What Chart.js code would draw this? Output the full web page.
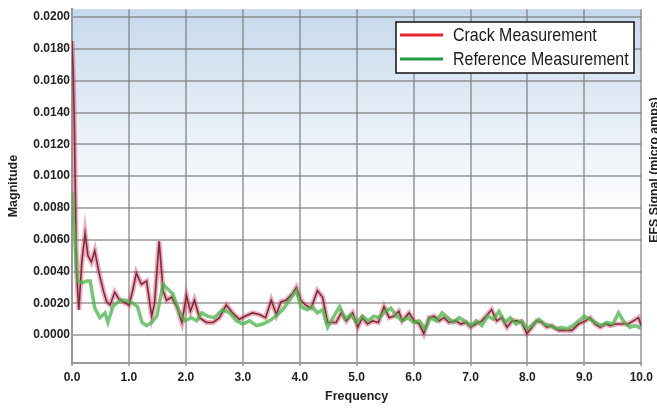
<!DOCTYPE html>
<html>
<head>
<meta charset="utf-8">
<title>Magnitude vs Frequency</title>
<script src="https://cdn.jsdelivr.net/npm/chart.js@4/dist/chart.umd.min.js"></script>
<style>
  html, body { margin: 0; padding: 0; background: #fff; overflow: hidden; }
  #wrap { position: relative; width: 657px; height: 412px; }
</style>
</head>
<body>
<div id="wrap"><canvas id="fftChart"></canvas></div>
<script>
// values
const crackFreq = [0.00, 0.02, 0.04, 0.06, 0.08, 0.12, 0.17, 0.23, 0.28, 0.34, 0.40, 0.47, 0.55, 0.61, 0.67, 0.75, 0.82, 0.90,
  1.00, 1.06, 1.13, 1.22, 1.31, 1.40, 1.45, 1.53, 1.60, 1.66, 1.75, 1.84, 1.93, 2.01, 2.08, 2.15, 2.24, 2.36, 2.48, 2.59,
  2.71, 2.82, 2.94, 3.05, 3.17, 3.29, 3.40, 3.50, 3.59, 3.67, 3.76, 3.87, 3.94, 4.02, 4.10, 4.20, 4.31, 4.40, 4.49, 4.64,
  4.73, 4.82, 4.93, 5.02, 5.10, 5.19, 5.28, 5.38, 5.48, 5.57, 5.66, 5.74, 5.80, 5.92, 6.01, 6.10, 6.18, 6.27, 6.36, 6.45,
  6.53, 6.62, 6.74, 6.83, 6.92, 7.00, 7.09, 7.20, 7.32, 7.37, 7.46, 7.55, 7.64, 7.73, 7.81, 7.90, 7.99, 8.08, 8.16, 8.25,
  8.34, 8.43, 8.55, 8.67, 8.78, 8.90, 9.02, 9.10, 9.19, 9.28, 9.37, 9.46, 9.55, 9.65, 9.77, 9.86, 9.95, 10.00];
const crackMag = [0.0185, 0.0166, 0.0135, 0.0085, 0.0040, 0.0016, 0.0045, 0.0064, 0.0050, 0.0046, 0.0053, 0.0040, 0.0028, 0.0021, 0.0019, 0.0027, 0.0023, 0.0021,
  0.0019, 0.0027, 0.0039, 0.0032, 0.0034, 0.0012, 0.0020, 0.0059, 0.0028, 0.0022, 0.0024, 0.0018, 0.0008, 0.0025, 0.0015, 0.0022, 0.0011, 0.0008, 0.0008, 0.0011,
  0.0019, 0.0014, 0.0010, 0.0012, 0.0014, 0.0013, 0.0011, 0.0022, 0.0013, 0.0021, 0.0022, 0.0026, 0.0030, 0.0022, 0.0019, 0.0017, 0.0028, 0.0024, 0.0008, 0.0008,
  0.0014, 0.0009, 0.0014, 0.0005, 0.0011, 0.0007, 0.0009, 0.0008, 0.0018, 0.0011, 0.0012, 0.0015, 0.0009, 0.0014, 0.0009, 0.0007, 0.0001, 0.0011, 0.0012, 0.0009,
  0.0011, 0.0008, 0.0009, 0.0007, 0.0008, 0.0005, 0.0007, 0.0009, 0.0014, 0.0016, 0.0009, 0.0011, 0.0005, 0.0009, 0.0009, 0.0008, 0.0001, 0.0005, 0.0009, 0.0008,
  0.0005, 0.0006, 0.0003, 0.0003, 0.0003, 0.0007, 0.0009, 0.0011, 0.0007, 0.0005, 0.0007, 0.0006, 0.0007, 0.0007, 0.0007, 0.0009, 0.0011, 0.0006];

const refFreq = [0.00, 0.02, 0.05, 0.08, 0.10, 0.18, 0.26, 0.32, 0.40, 0.49, 0.58, 0.63, 0.72, 0.84, 0.96, 1.07, 1.15, 1.23,
  1.31, 1.40, 1.49, 1.60, 1.68, 1.77, 1.89, 1.98, 2.10, 2.19, 2.28, 2.38, 2.50, 2.64, 2.77, 2.89, 3.00, 3.12, 3.24, 3.35,
  3.47, 3.58, 3.70, 3.82, 3.94, 4.02, 4.13, 4.22, 4.31, 4.40, 4.49, 4.60, 4.70, 4.80, 4.90, 5.00, 5.10, 5.20, 5.30, 5.40,
  5.50, 5.60, 5.70, 5.80, 5.90, 6.00, 6.10, 6.20, 6.30, 6.40, 6.50, 6.60, 6.70, 6.80, 6.90, 7.00, 7.10, 7.20, 7.30, 7.40,
  7.50, 7.60, 7.70, 7.80, 7.90, 8.00, 8.10, 8.20, 8.30, 8.40, 8.50, 8.60, 8.70, 8.80, 8.90, 9.00, 9.10, 9.20, 9.30, 9.40,
  9.50, 9.60, 9.70, 9.80, 9.90, 10.00];
const refMag = [0.0090, 0.0075, 0.0062, 0.0042, 0.0034, 0.0033, 0.0034, 0.0034, 0.0017, 0.0011, 0.0014, 0.0008, 0.0018, 0.0022, 0.0022, 0.0020, 0.0018, 0.0008,
  0.0006, 0.0008, 0.0012, 0.0032, 0.0029, 0.0026, 0.0014, 0.0009, 0.0011, 0.0009, 0.0014, 0.0012, 0.0011, 0.0016, 0.0014, 0.0009, 0.0007, 0.0009, 0.0006, 0.0007,
  0.0009, 0.0012, 0.0016, 0.0022, 0.0028, 0.0018, 0.0016, 0.0018, 0.0014, 0.0016, 0.0005, 0.0012, 0.0018, 0.0010, 0.0013, 0.0008, 0.0012, 0.0009, 0.0012, 0.0011,
  0.0015, 0.0017, 0.0012, 0.0009, 0.0011, 0.0008, 0.0009, 0.0004, 0.0011, 0.0009, 0.0014, 0.0011, 0.0008, 0.0011, 0.0009, 0.0006, 0.0009, 0.0006, 0.0012, 0.0010,
  0.0015, 0.0008, 0.0011, 0.0007, 0.0009, 0.0004, 0.0007, 0.0010, 0.0007, 0.0006, 0.0004, 0.0005, 0.0004, 0.0006, 0.0009, 0.0012, 0.0010, 0.0008, 0.0006, 0.0008,
  0.0007, 0.0014, 0.0008, 0.0005, 0.0006, 0.0004];

const seriesNames = ["Crack Measurement", "Reference Measurement"];
const legendColors = ["#e8242c", "#1f9a3e"];
const xTitle = "Frequency";
const yTitle = "Magnitude";
const rightTitle = "EFS Signal (micro amps)";

const tickFont = { family: "'Liberation Sans', Arial, sans-serif", size: 12, weight: "bold" };
const titleFont = { family: "'Liberation Sans', Arial, sans-serif", size: 12.5, weight: "bold" };
const gridColor = "rgba(125,125,125,0.6)";

function toPoints(xs, ys) {
  return xs.map((x, i) => ({ x: x, y: ys[i] }));
}

// blue wash at the top of the plot area
const plotBackground = {
  id: "plotBackground",
  beforeDraw(chart) {
    const { ctx, chartArea: a } = chart;
    const g = ctx.createLinearGradient(0, a.top, 0, a.bottom);
    g.addColorStop(0, "#c6d9ec");
    g.addColorStop(0.3, "#e4edf6");
    g.addColorStop(0.58, "#ffffff");
    g.addColorStop(1, "#ffffff");
    ctx.save();
    ctx.fillStyle = g;
    ctx.fillRect(a.left, a.top, a.right - a.left, a.bottom - a.top);
    ctx.restore();
  }
};

// boxed legend inside the plot, plus the clipped right-hand title
const boxLegend = {
  id: "boxLegend",
  afterDraw(chart) {
    const ctx = chart.ctx;
    const bx = 396, by = 22, bw = 238, bh = 51;
    ctx.save();
    ctx.fillStyle = "#ffffff";
    ctx.fillRect(bx, by, bw, bh);
    ctx.strokeStyle = "#111";
    ctx.lineWidth = 1.5;
    ctx.strokeRect(bx, by, bw, bh);
    ctx.textBaseline = "middle";
    seriesNames.forEach((name, i) => {
      const y = by + 13 + i * 24;
      ctx.strokeStyle = legendColors[i];
      ctx.lineWidth = 3;
      ctx.beginPath();
      ctx.moveTo(bx + 4, y);
      ctx.lineTo(bx + 47, y);
      ctx.stroke();
      // condensed face is not installed, so squeeze the text sideways
      ctx.save();
      ctx.translate(bx + 57, y + 1);
      ctx.scale(0.84, 1);
      ctx.font = "19px 'Liberation Sans', Arial, sans-serif";
      ctx.fillStyle = "#1a1a1a";
      ctx.fillText(name, 0, 0);
      ctx.restore();
    });

    ctx.translate(654, 170);
    ctx.rotate(-Math.PI / 2);
    ctx.scale(0.95, 1);
    ctx.font = "bold 13px 'Liberation Sans', Arial, sans-serif";
    ctx.textAlign = "center";
    ctx.fillStyle = "#222";
    ctx.fillText(rightTitle, 0, 0);
    ctx.restore();
  }
};

const fftChart = new Chart(document.getElementById("fftChart"), {
  type: "line",
  data: {
    datasets: [
      {
        label: seriesNames[1],
        data: toPoints(refFreq, refMag),
        borderColor: "rgba(70,180,70,0.75)",
        borderWidth: 3.5,
        pointRadius: 0,
        tension: 0
      },
      {
        label: seriesNames[0],
        data: toPoints(crackFreq, crackMag),
        borderColor: "rgba(225,70,105,0.45)",
        borderWidth: 5,
        pointRadius: 0,
        tension: 0
      },
      {
        label: seriesNames[0] + " core",
        data: toPoints(crackFreq, crackMag),
        borderColor: "#2a1818",
        borderWidth: 1.6,
        pointRadius: 0,
        tension: 0
      }
    ]
  },
  options: {
    responsive: true,
    maintainAspectRatio: false,
    animation: false,
    layout: { padding: { top: 6, right: 12, left: 0, bottom: 0 } },
    plugins: {
      legend: { display: false },
      tooltip: { enabled: false }
    },
    scales: {
      x: {
        type: "linear",
        min: 0,
        max: 10,
        afterFit: s => { s.height = 49; },
        ticks: {
          stepSize: 1,
          color: "#222",
          font: tickFont,
          padding: 4,
          maxRotation: 0,
          callback: v => v.toFixed(1)
        },
        grid: { color: gridColor, lineWidth: 2, tickLength: 3 },
        border: { color: "#999", width: 2 },
        title: { display: true, text: xTitle, color: "#222", font: titleFont, padding: { top: 0, bottom: 8 } }
      },
      y: {
        min: -0.00175,
        max: 0.0205,
        afterFit: s => { s.width = 72; },
        afterBuildTicks: s => {
          s.ticks = [];
          for (let v = 0; v <= 0.02 + 1e-9; v += 0.002) s.ticks.push({ value: +v.toFixed(4) });
        },
        ticks: {
          color: "#222",
          font: tickFont,
          padding: 2,
          callback: v => v.toFixed(4)
        },
        grid: { color: gridColor, lineWidth: 2, drawTicks: false },
        border: { color: "#999", width: 2 },
        title: { display: true, text: yTitle, color: "#222", font: titleFont, padding: 6 }
      }
    }
  },
  plugins: [plotBackground, boxLegend]
});
</script>
</body>
</html>
